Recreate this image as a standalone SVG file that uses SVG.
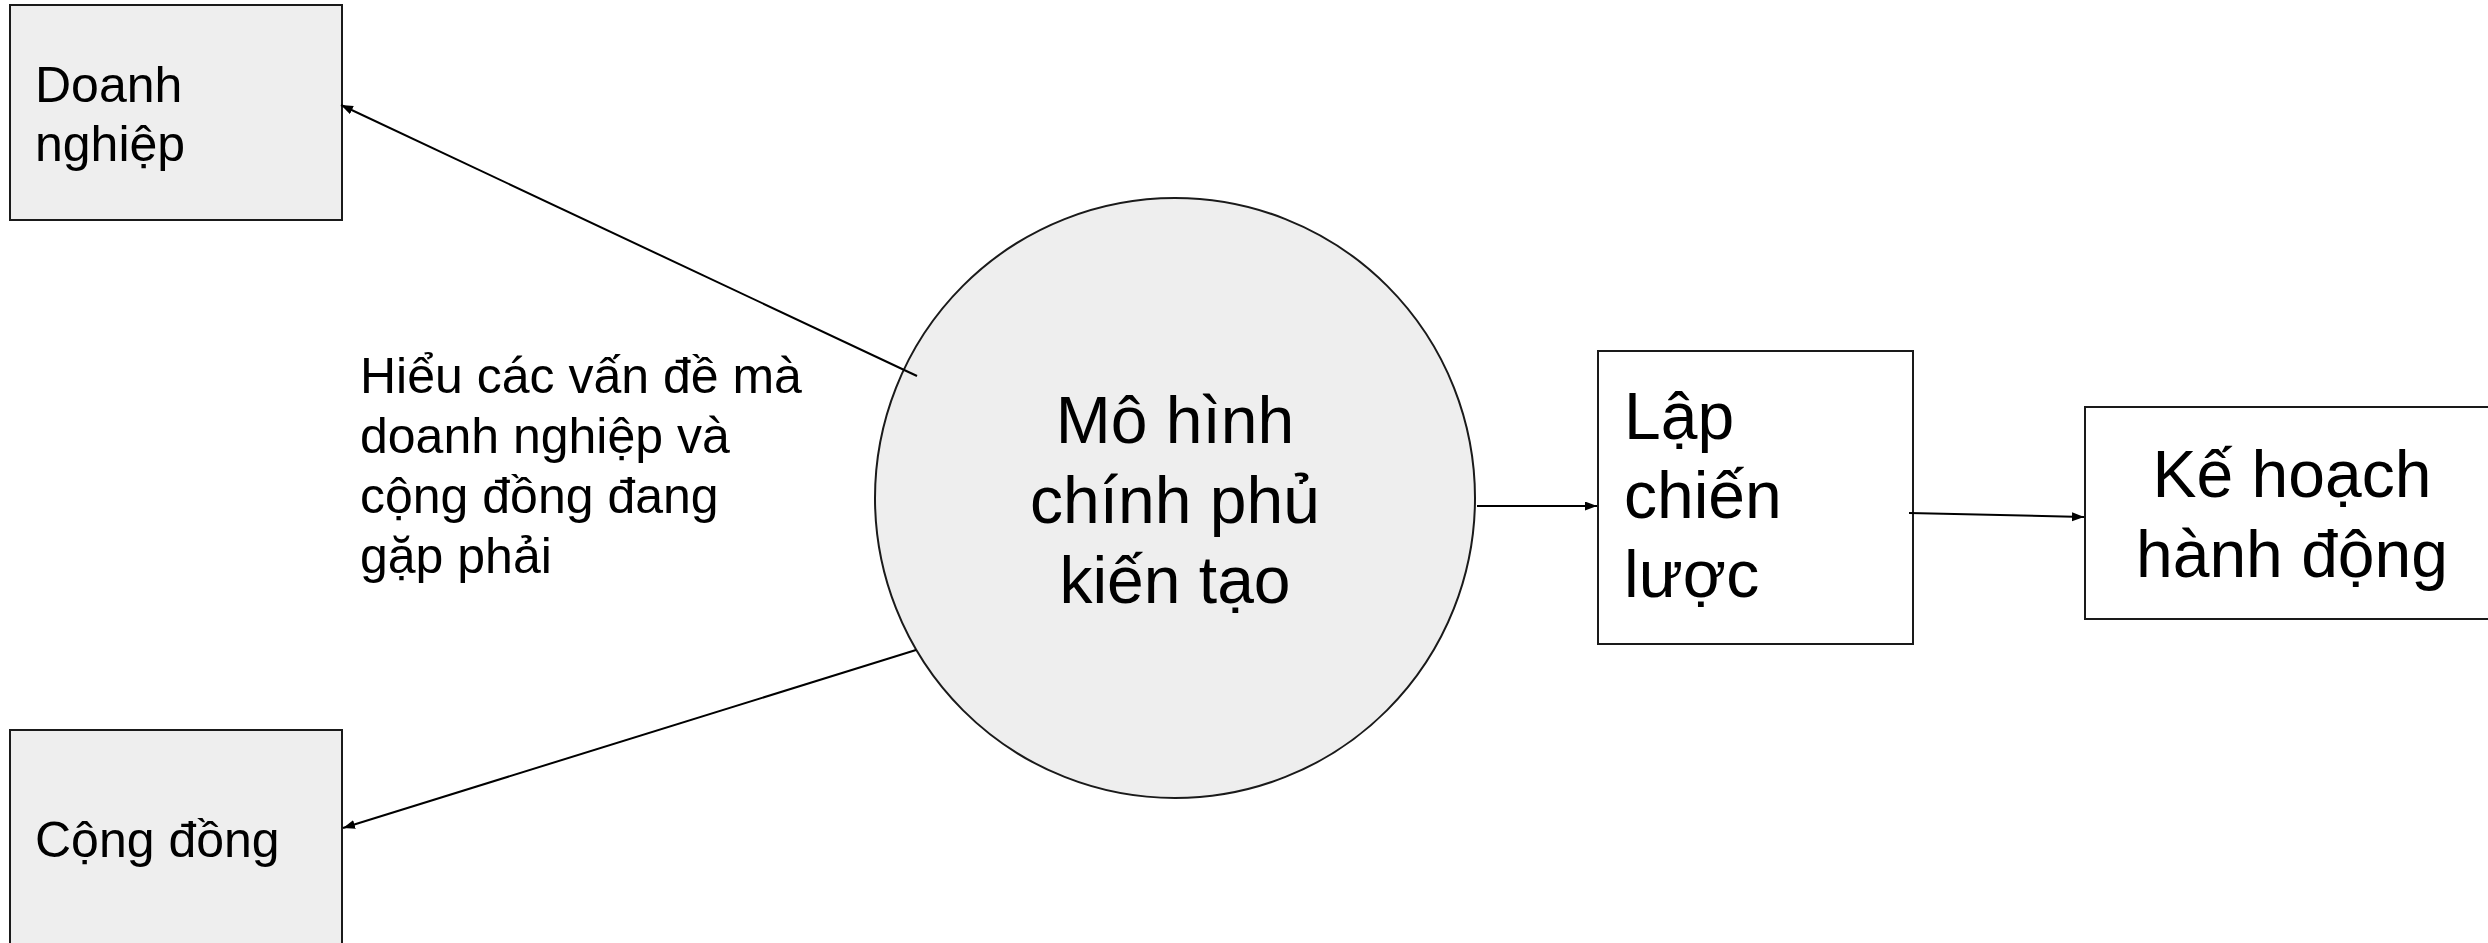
<svg xmlns="http://www.w3.org/2000/svg" width="2488" height="943" viewBox="0 0 2488 943">
<defs>
<style>
.t{font-family:"Liberation Sans",Arial,"Noto Sans",sans-serif;fill:#000}
.s50{font-size:50px}
.s66{font-size:66px}
.box{stroke:#1a1a1a;stroke-width:2}
.grey{fill:#eeeeee}
.white{fill:#ffffff}
.conn{stroke:#000;stroke-width:2;fill:none}
</style>
<marker id="arr" markerUnits="userSpaceOnUse" markerWidth="14" markerHeight="10" refX="12" refY="4.5" orient="auto">
<path d="M0,0 L12,4.5 L0,9 z" fill="#000"/>
</marker>
</defs>
<rect width="2488" height="943" fill="#ffffff"/>
<g id="doanh-nghiep">
<rect class="box grey" x="10" y="5" width="332" height="215"/>
<text class="t s50" x="35" y="102">Doanh</text>
<text class="t s50" x="35" y="161">nghiệp</text>
</g>
<g id="cong-dong">
<rect class="box grey" x="10" y="730" width="332" height="230"/>
<text class="t s50" x="35" y="857">Cộng đồng</text>
</g>
<g id="mo-hinh">
<circle class="box grey" cx="1175" cy="498" r="300"/>
<text class="t s66" text-anchor="middle" x="1175" y="443">Mô hình</text>
<text class="t s66" text-anchor="middle" x="1175" y="523">chính phủ</text>
<text class="t s66" text-anchor="middle" x="1175" y="603">kiến tạo</text>
</g>
<g id="lap-chien-luoc">
<rect class="box white" x="1598" y="351" width="315" height="293"/>
<text class="t s66" x="1624" y="439">Lập</text>
<text class="t s66" x="1624" y="518">chiến</text>
<text class="t s66" x="1624" y="597">lược</text>
</g>
<g id="ke-hoach">
<rect class="box white" x="2085" y="407" width="414" height="212"/>
<text class="t s66" text-anchor="middle" x="2292" y="497">Kế hoạch</text>
<text class="t s66" text-anchor="middle" x="2292" y="577">hành động</text>
</g>
<g id="label">
<text class="t s50" x="360" y="393">Hiểu các vấn đề mà</text>
<text class="t s50" x="360" y="453">doanh nghiệp và</text>
<text class="t s50" x="360" y="513">cộng đồng đang</text>
<text class="t s50" x="360" y="573">gặp phải</text>
</g>
<g id="connectors">
<line class="conn" x1="917" y1="376" x2="341" y2="105" marker-end="url(#arr)"/>
<line class="conn" x1="916" y1="650" x2="343" y2="828" marker-end="url(#arr)"/>
<line class="conn" x1="1477" y1="506" x2="1597" y2="506" marker-end="url(#arr)"/>
<line class="conn" x1="1909" y1="513" x2="2084" y2="517" marker-end="url(#arr)"/>
</g>
</svg>
